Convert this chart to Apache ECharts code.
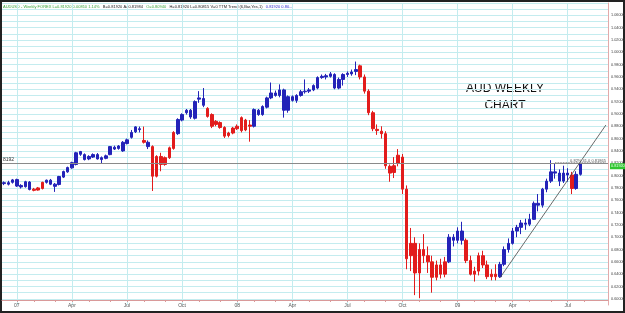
<html>
<head>
<meta charset="utf-8">
<title>AUD weekly chart</title>
<script src="https://cdn.jsdelivr.net/npm/echarts@6/dist/echarts.min.js"></script>
<style>
  html,body{margin:0;padding:0;background:#fff;}
  #main{width:625px;height:313px;}
</style>
</head>
<body>
<div id="main"></div>
<script>
// weekly candles, Dec 2006 .. Jul 2009 : [open, close, low, high]
var ohlc = [
  [.7870,.7885,.7845,.7905],[.7885,.7860,.7840,.7915],[.7890,.7930,.7870,.7945],[.7935,.7830,.7815,.7950],
  [.7840,.7815,.7790,.7860],[.7820,.7900,.7805,.7915],[.7895,.7775,.7760,.7910],[.7780,.7760,.7745,.7800],
  [.7765,.7800,.7755,.7815],[.7790,.7890,.7775,.7900],[.7890,.7925,.7870,.7935],[.7925,.7860,.7845,.7945],
  [.7860,.7825,.7735,.7880],[.7855,.7985,.7840,.7995],[.7975,.8065,.7960,.8080],[.8060,.8130,.8045,.8145],
  [.8125,.8210,.8110,.8225],[.8180,.8370,.8165,.8385],[.8345,.8390,.8320,.8400],[.8340,.8260,.8245,.8360],
  [.8270,.8310,.8250,.8330],[.8300,.8340,.8285,.8360],[.8340,.8270,.8260,.8365],[.8260,.8290,.8200,.8310],
  [.8280,.8320,.8265,.8340],[.8340,.8470,.8330,.8480],[.8460,.8430,.8415,.8485],[.8440,.8480,.8420,.8495],
  [.8400,.8540,.8385,.8560],[.8520,.8580,.8505,.8600],[.8620,.8700,.8600,.8740],[.8710,.8790,.8690,.8800],
  [.8760,.8745,.8700,.8795],[.8570,.8540,.8520,.8795],[.8540,.8470,.8430,.8570],[.8470,.7990,.7750,.8490],
  [.7990,.8310,.7970,.8330],[.8310,.8180,.8070,.8370],[.8180,.8290,.8160,.8310],[.8290,.8450,.8270,.8470],
  [.8440,.8700,.8420,.8720],[.8680,.8910,.8660,.8930],[.8900,.8990,.8880,.9010],[.9020,.9060,.8990,.9080],
  [.9060,.8950,.8920,.9080],[.8930,.9200,.8910,.9220],[.9240,.9260,.9180,.9370],[.9250,.9140,.9110,.9420],
  [.9090,.8960,.8940,.9110],[.8990,.8800,.8770,.9010],[.8880,.8830,.8800,.8900],[.8860,.8780,.8760,.8880],
  [.8780,.8640,.8610,.8800],[.8650,.8690,.8620,.8710],[.8690,.8770,.8670,.8790],[.8760,.8800,.8740,.8830],
  [.8940,.8730,.8700,.8960],[.8740,.8900,.8720,.8920],[.8820,.8800,.8550,.8900],[.8800,.9070,.8780,.9090],
  [.9060,.8990,.8970,.9080],[.8990,.9120,.8970,.9140],[.9110,.9260,.9090,.9280],[.9260,.9340,.9240,.9510],
  [.9340,.9300,.9280,.9380],[.9300,.9390,.9270,.9480],[.9390,.9060,.8940,.9410],[.9060,.9280,.9020,.9300],
  [.9280,.9220,.9200,.9300],[.9220,.9300,.9180,.9320],[.9300,.9360,.9280,.9390],[.9360,.9370,.9330,.9560],
  [.9370,.9390,.9340,.9420],[.9390,.9460,.9370,.9480],[.9420,.9590,.9400,.9610],[.9590,.9610,.9570,.9640],
  [.9600,.9620,.9560,.9650],[.9610,.9650,.9590,.9680],[.9640,.9420,.9400,.9660],[.9420,.9560,.9400,.9590],
  [.9560,.9640,.9460,.9660],[.9640,.9660,.9600,.9690],[.9650,.9680,.9620,.9720],[.9690,.9720,.9630,.9850],
  [.9780,.9600,.9560,.9800],[.9600,.9370,.9330,.9640],[.9370,.9020,.8980,.9400],[.9020,.8760,.8720,.9050],
  [.8750,.8730,.8660,.8830],[.8720,.8680,.8600,.8800],[.8680,.8160,.8110,.8720],[.8150,.8040,.7900,.8180],
  [.8050,.8160,.7960,.8300],[.8200,.8330,.8150,.8430],[.8300,.7780,.7700,.8350],[.7780,.6650,.6480,.7840],
  [.6700,.6900,.6450,.7150],[.6900,.6420,.6060,.7000],[.6420,.6800,.6010,.6900],[.6800,.6700,.6580,.7050],
  [.6700,.6600,.6420,.6850],[.6600,.6350,.6100,.6700],[.6350,.6550,.6300,.6620],[.6550,.6400,.6330,.6650],
  [.6400,.6600,.6350,.6680],[.6600,.7000,.6580,.7050],[.7000,.6950,.6850,.7050],[.6950,.7100,.6900,.7160],
  [.7100,.6950,.6880,.7250],[.6950,.6620,.6580,.6980],[.6620,.6400,.6380,.6700],[.6400,.6450,.6280,.6520],
  [.6450,.6700,.6380,.6750],[.6700,.6550,.6500,.6780],[.6550,.6360,.6320,.6620],[.6360,.6400,.6300,.6480],
  [.6400,.6360,.6300,.6560],[.6360,.6560,.6340,.6600],[.6560,.6800,.6530,.6850],[.6800,.6900,.6750,.6980],
  [.6900,.7100,.6880,.7150],[.7100,.7160,.7000,.7200],[.7160,.7230,.7050,.7280],[.7230,.7210,.7120,.7300],
  [.7210,.7290,.7180,.7380],[.7290,.7550,.7280,.7580],[.7550,.7520,.7420,.7700],[.7520,.7780,.7480,.7800],
  [.7780,.7910,.7730,.7950],[.7910,.8060,.7880,.8250],[.8060,.8040,.7950,.8200],[.8040,.7910,.7830,.8100],
  [.7910,.8040,.7880,.8160],[.8040,.8010,.7900,.8120],[.8010,.7790,.7700,.8060],[.7790,.8020,.7770,.8070],
  [.8020,.8192,.8000,.8210]
];
// TTM trend colouring, runs of B (blue) / R (red)
var trendRuns = [['B',7],['R',3],['B',23],['R',1],['B',1],['R',6],['B',7],['R',11],['B',25],
                 ['R',21],['B',4],['R',8],['B',17],['R',1],['B',2]];
var slots = 143;             // weeks incl. empty space on the right
var tickIdx  = [3,16,29,42,55,68,81,94,107,120,133];
var tickText = ['07','Apr','Jul','Oct','08','Apr','Jul','Oct','09','Apr','Jul'];
var lastPrice = 0.8192;
var trendLine = [['117', 0.634], ['142', 0.882]];
var yMin = 0.59, yMax = 1.08, yStep = 0.01;

var BLUE = '#2323b8', RED = '#e21c1c';
var trend = [];
trendRuns.forEach(function(r){ for(var k=0;k<r[1];k++) trend.push(r[0]); });
if(trend.length!==ohlc.length) console.log('trend length mismatch', trend.length, ohlc.length);

var cats = [];
for(var i=0;i<slots;i++) cats.push(String(i));

var monthTicks = {};
for(var m=0;m<32;m++) monthTicks[3+Math.round(m*52/12)] = true;
var labelAt = {};
tickIdx.forEach(function(t,k){ labelAt[t]=tickText[k]; });

var candles = ohlc.map(function(d,k){
  var c = trend[k]==='R' ? RED : BLUE;
  return {value:d, itemStyle:{color:c,color0:c,borderColor:c,borderColor0:c,borderColorDoji:c}};
});

var myChart = echarts.init(document.getElementById('main'));
var option = {
  animation:false,
  backgroundColor:'#fff',
  grid:{left:2,right:17,top:3,bottom:8,containLabel:false,outerBoundsMode:'none'},
  xAxis:{
    type:'category', data:cats, boundaryGap:true, offset:-5, min:0, max:slots-1,
    axisLine:{lineStyle:{color:'#d99a9a',width:1}},
    axisTick:{show:true,length:2,alignWithLabel:true,lineStyle:{color:'#d99a9a'},
      interval:function(idx){ return !!monthTicks[idx]; }},
    axisLabel:{fontSize:5,color:'#555',margin:3,fontFamily:'Liberation Sans',
      interval:function(idx){ return labelAt[idx]!==undefined; },
      formatter:function(v,idx){ return labelAt[idx]||''; }},
    splitLine:{show:true,alignWithLabel:true,lineStyle:{color:'#c4ecef',width:1},
      interval:function(idx){ return labelAt[idx]!==undefined; }}
  },
  yAxis:{
    type:'value', position:'right', min:yMin, max:yMax, interval:yStep, scale:true,
    axisLine:{show:true,lineStyle:{color:'#e3aaaa',width:1}},
    axisTick:{show:false},
    axisLabel:{fontSize:3.8,color:'#444',margin:3,fontFamily:'Liberation Sans',
      formatter:function(v){
        var h = Math.round(v*100);
        return (h%2===0 && v<1.07) ? v.toFixed(5) : '';
      }},
    splitLine:{show:true,showMinLine:false,lineStyle:{color:'#c4ecef',width:1}}
  },
  series:[{
    type:'candlestick', data:candles, barWidth:3,
    itemStyle:{borderWidth:1},
    markLine:{
      silent:true, symbol:['none','none'], animation:false,
      data:[
        {yAxis:lastPrice, lineStyle:{color:'#8a8a8a',width:1,type:'solid'},
         label:{position:'insideStartTop',formatter:'8192',fontSize:5,color:'#333',distance:1}},
        {yAxis:lastPrice, lineStyle:{color:'rgba(0,0,0,0)',width:1},
         label:{show:true,position:'end',formatter:'0.81920',fontSize:3.8,color:'#eaffea',
                backgroundColor:'#31c631',padding:[1,1],distance:2,offset:[0,3]}},
        [{coord:trendLine[0],lineStyle:{color:'#444',width:0.8,type:'solid'},label:{show:false}},
         {coord:trendLine[1]}],
        [{coord:['130',0.8212],lineStyle:{color:'#777',width:0.8,type:'dotted'},
          label:{show:true,position:'insideEndTop',formatter:'0.82% 41.0 0.81865',fontSize:4,color:'#555',distance:0}},
         {coord:['142',0.8212]}]
      ]
    }
  }],
  graphic:[
    {type:'text',left:3,top:1,style:{
      rich:{g:{fill:'#3aa63a',fontSize:4,fontFamily:'Liberation Sans'},
            k:{fill:'#222',fontSize:4,fontFamily:'Liberation Sans'},
            b:{fill:'#2a2ad0',fontSize:4,fontFamily:'Liberation Sans'}},
      text:'{g|AUDUSD - Weekly FOREX L=0.81920 0.00810 1.14%} {k|B=0.81920 A=0.81984} {g|O=0.80940} {k|H=0.81920 L=0.80815 V=0 TTM Trend (6,Bar,Yes,1)} {b|0.81920 0.80...}'
    }},
    {type:'text',x:505,y:83,style:{text:'AUD WEEKLY',fill:'#111',stroke:null,lineWidth:0,fontSize:12,
      fontWeight:'normal',fontFamily:'Liberation Sans',textAlign:'center'}},
    {type:'text',x:505,y:100,style:{text:'CHART',fill:'#111',stroke:null,lineWidth:0,fontSize:12,
      fontWeight:'normal',fontFamily:'Liberation Sans',textAlign:'center'}},
    {type:'rect',shape:{x:1,y:1,width:623,height:311},
      style:{fill:'none',stroke:'#222',lineWidth:2},silent:true}
  ]
};
myChart.setOption(option);
</script>
</body>
</html>
